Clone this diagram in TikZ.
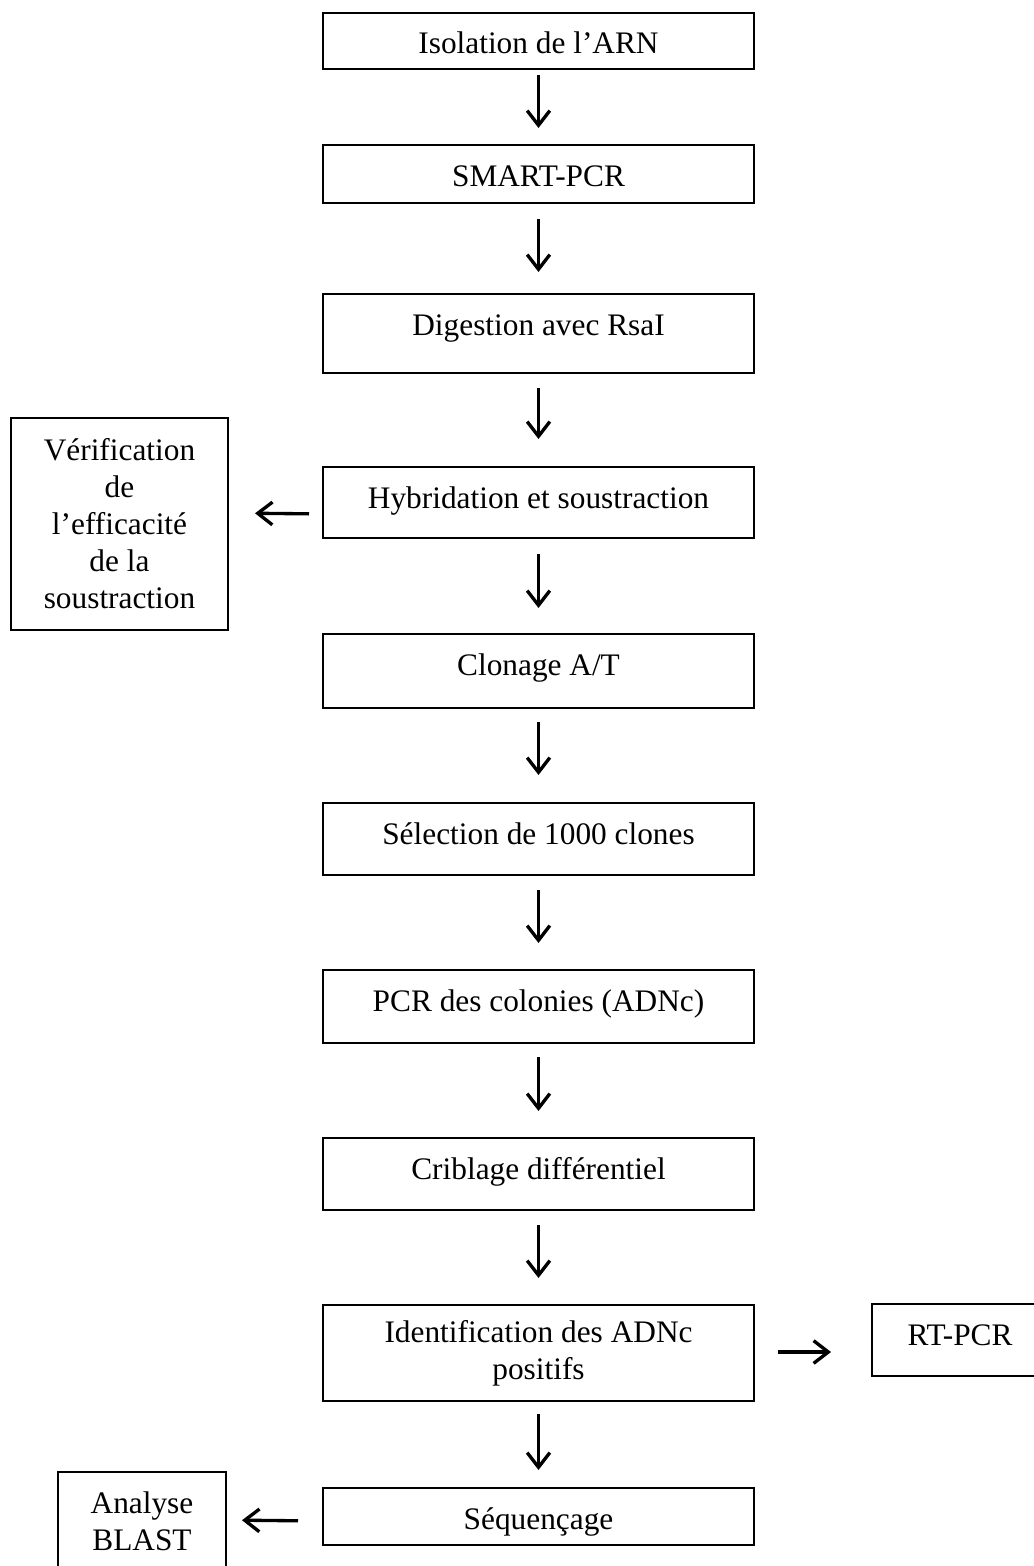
\documentclass[tikz,border=0pt]{standalone}
\usepackage{fontspec}
\setmainfont{Liberation Serif}
\usetikzlibrary{arrows.meta}
\begin{document}
\begin{tikzpicture}[x=0.75pt,y=-0.75pt,
  box/.style={draw,line width=1.5pt,inner sep=0pt,anchor=north,
    font=\fontsize{23.5}{27.75}\selectfont,text height=30.75pt},
  mbox/.style={draw,line width=1.5pt,inner sep=0pt,align=center,
    font=\fontsize{23.5}{27.75}\selectfont},
  arr/.style={line width=2.5pt,-{Straight Barb[length=11pt,width=17pt,line width=2.5pt]}}]
\useasboundingbox (0,0) rectangle (1034,1566);
\clip (0,0) rectangle (1034,1566);
% main column
\node[box,minimum width=323.25pt,text depth=11.25pt] (b1) at (538.5,12) {Isolation de l’ARN};
\node[box,minimum width=323.25pt,text depth=12.75pt] (b2) at (538.5,144) {SMART-PCR};
\node[box,minimum width=323.25pt,text depth=28.5pt] (b3) at (538.5,293) {Digestion avec RsaI};
\node[box,minimum width=323.25pt,text depth=22.5pt] (b4) at (538.5,466) {Hybridation et soustraction};
\node[box,minimum width=323.25pt,text depth=24.75pt] (b5) at (538.5,633) {Clonage A/T};
\node[box,minimum width=323.25pt,text depth=23.25pt] (b6) at (538.5,802) {Sélection de 1000 clones};
\node[box,minimum width=323.25pt,text depth=24pt] (b7) at (538.5,969) {PCR des colonies (ADNc)};
\node[box,minimum width=323.25pt,text depth=23.25pt] (b8) at (538.5,1137) {Criblage différentiel};
\node[mbox,minimum width=323.25pt,minimum height=72pt] (b9) at (538.5,1353) {Identification des ADNc\\positifs};
\node[box,minimum width=323.25pt,text depth=12pt] (b10) at (538.5,1487) {Séquençage};
% side boxes
\node[mbox,minimum width=162.75pt,minimum height=159pt] (v) at (119.5,524) {Vérification\\de\\l’efficacité\\de la\\soustraction};
\node[box,minimum width=132pt,text depth=23.25pt] (rt) at (960,1303) {RT-PCR};
\node[mbox,minimum width=126pt,minimum height=74.25pt] (an) at (142,1521.5) {Analyse\\BLAST};
% vertical arrows
\draw[arr,shorten <=3.75pt,shorten >=12pt] (b1) -- (b2);
\draw[arr,shorten <=11.25pt,shorten >=15.75pt] (b2) -- (b3);
\draw[arr,shorten <=10.5pt,shorten >=20.25pt] (b3) -- (b4);
\draw[arr,shorten <=11.25pt,shorten >=18.75pt] (b4) -- (b5);
\draw[arr,shorten <=9.75pt,shorten >=20.25pt] (b5) -- (b6);
\draw[arr,shorten <=10.5pt,shorten >=19.5pt] (b6) -- (b7);
\draw[arr,shorten <=9.75pt,shorten >=19.5pt] (b7) -- (b8);
\draw[arr,shorten <=10.5pt,shorten >=19.5pt] (b8) -- (b9);
\draw[arr,shorten <=9pt,shorten >=12.75pt] (b9) -- (b10);
% side arrows
\draw[arr,shorten <=9.75pt,shorten >=19.5pt] ([yshift=-8.6pt]b4.west) -- ([yshift=8.25pt]v.east);
\draw[arr,shorten <=17.25pt,shorten >=30pt] ([yshift=0.75pt]b9.east) -- ([yshift=-9pt]rt.west);
\draw[arr,shorten <=18pt,shorten >=11.25pt] ([yshift=-3.4pt]b10.west) -- ([yshift=1.1pt]an.east);
\end{tikzpicture}
\end{document}
